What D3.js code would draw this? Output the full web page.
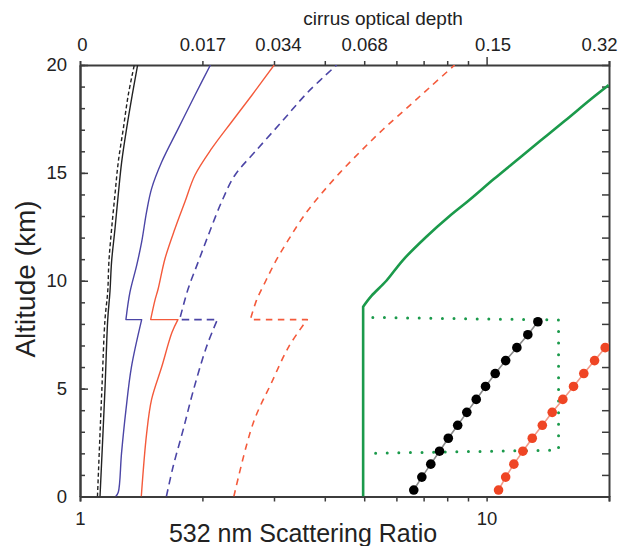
<!DOCTYPE html>
<html><head><meta charset="utf-8">
<script src="https://cdn.jsdelivr.net/npm/d3@7"></script>
<style>
body{margin:0;background:#fff}
svg{display:block}
text{font-family:Arial,"Liberation Sans",sans-serif;fill:#222}
</style>
</head><body>
<svg id="c" width="628" height="546"></svg>
<script>
// ---------- data (altitude km, 532 nm scattering ratio) ----------
const altBlackSolid   = [0, 5, 8.2, 9.5, 10.9, 12.4, 14.0, 15.5, 17.05, 18.6, 20];
const ratioBlackSolid = [1.120, 1.152, 1.170, 1.185, 1.196, 1.219, 1.242, 1.266, 1.302, 1.344, 1.386];
const altBlackDashed   = [0, 5, 8.2, 9.5, 10.9, 12.4, 14.0, 15.5, 17.05, 18.6, 20];
const ratioBlackDashed = [1.104, 1.132, 1.152, 1.170, 1.178, 1.196, 1.219, 1.242, 1.278, 1.314, 1.360];

const altBlueSolid   = [0, 0.2, 2, 4, 6, 8.2, 8.2, 9.47, 10.7, 11.8, 13.19, 14.27, 15.5, 17.05, 18.6, 20];
const ratioBlueSolid = [1.224, 1.242, 1.265, 1.297, 1.338, 1.418, 1.297, 1.327, 1.378, 1.418, 1.458, 1.500, 1.588, 1.744, 1.917, 2.093];

const altRedSolid   = [0, 2.9, 4.5, 6, 7.6, 8.2, 8.2, 9.1, 9.63, 11.02, 12.41, 13.65, 14.89, 16.12, 17.36, 18.6, 20];
const ratioRedSolid = [1.415, 1.458, 1.500, 1.588, 1.683, 1.741, 1.492, 1.529, 1.557, 1.618, 1.712, 1.811, 1.917, 2.107, 2.359, 2.647, 3.003];

const altBlueDashed   = [0, 1.4, 3.1, 4.9, 6.95, 8.2, 8.2, 9.63, 10.87, 12.1, 13.65, 14.89, 15.97, 17.36, 18.75, 20];
const ratioBlueDashed = [1.631, 1.695, 1.794, 1.899, 2.048, 2.177, 1.758, 1.845, 1.953, 2.067, 2.229, 2.404, 2.692, 3.131, 3.638, 4.28];

const altRedDashed   = [0, 3.4, 5.25, 6.95, 8.2, 8.2, 9.1, 10, 11, 12, 13, 14, 15, 16, 17, 18, 19, 20];
const ratioRedDashed = [2.390, 2.666, 2.954, 3.263, 3.622, 2.624, 2.718, 2.864, 3.048, 3.281, 3.550, 3.910, 4.353, 4.901, 5.553, 6.362, 7.285, 8.344];

const altGreen   = [0, 8.8, 9.3, 10.0, 10.96, 12.04, 13.0, 13.75, 14.7, 15.6, 16.5, 17.4, 18.4, 19.07];
const ratioGreen = [4.97, 4.97, 5.21, 5.669, 6.229, 7.110, 8.111, 9.084, 10.40, 11.88, 13.58, 15.55, 18.01, 19.97];

const altGreenDotted   = [8.3, 8.18, 2.15, 2.0];
const ratioGreenDotted = [5.25, 15.03, 15.03, 5.01];

const altBlackDots   = [0.3, 0.9, 1.5, 2.1, 2.7, 3.3, 3.9, 4.5, 5.1, 5.7, 6.3, 6.9, 7.5, 8.1];
const ratioBlackDots = [6.62, 6.93, 7.29, 7.66, 8.05, 8.49, 8.94, 9.43, 9.94, 10.50, 11.14, 11.87, 12.63, 13.37];

const altRedDots   = [0.3, 0.9, 1.5, 2.1, 2.7, 3.3, 3.9, 4.5, 5.1, 5.7, 6.3, 6.9, 7.5];
const ratioRedDots = [10.70, 11.14, 11.67, 12.28, 12.95, 13.71, 14.50, 15.40, 16.36, 17.34, 18.43, 19.57, 20.8];

// ticks / labels
const bottomTickValues = [1, 2, 3, 4, 5, 6, 7, 8, 9, 10, 20];
const bottomLabelValues = [1, 10];
const topTickValues = [2, 3, 4, 5, 6, 7, 8, 9, 10, 20];
const topLabelPositions = [1, 2, 3, 5, 10, 20];
const topLabels = ["0", "0.017", "0.034", "0.068", "0.15", "0.32"];
const yMajorTicks = [0, 5, 10, 15, 20];
const yMinorTicks = d3.range(0, 21, 1);

// ---------- layout ----------
const L = 80, R = 609, T = 65, B = 496.5;
const svg = d3.select("#c");
const x = d3.scaleLog().domain([1, 20]).range([L, R]);
const y = d3.scaleLinear().domain([0, 20]).range([B, T]);

svg.append("defs").append("clipPath").attr("id", "clip")
  .append("rect").attr("x", L).attr("y", T).attr("width", R - L).attr("height", B - T);

const axisColor = "#3c3c3c";

const gB = svg.append("g").attr("transform", `translate(0,${B})`)
  .call(d3.axisBottom(x).tickValues(bottomTickValues).tickSize(5).tickPadding(10)
    .tickFormat(d => bottomLabelValues.includes(d) ? String(d) : ""));
const gT = svg.append("g").attr("transform", `translate(0,${T})`)
  .call(d3.axisTop(x).tickValues(topTickValues).tickSize(4).tickFormat(""));
gT.selectAll(".tick line").filter(d => d === 10).attr("y2", -8);
const gTL = svg.append("g").attr("transform", `translate(0,${T})`)
  .call(d3.axisTop(x).tickValues(topLabelPositions).tickSize(0).tickPadding(14)
    .tickFormat((d, i) => topLabels[i]));
gTL.select(".domain").remove();
gTL.selectAll(".tick text").filter(d => d === 20).attr("text-anchor", "end").attr("dx", 8);
gTL.selectAll(".tick text").filter(d => d === 10).attr("dx", 6);
gTL.selectAll(".tick text").filter(d => d === 3).attr("dx", 4);
gTL.selectAll(".tick text").filter(d => d === 1).attr("dx", 2);

const gLm = svg.append("g").attr("transform", `translate(${L},0)`)
  .call(d3.axisLeft(y).tickValues(yMinorTicks).tickSizeInner(-5).tickSizeOuter(0).tickFormat(""));
const gL = svg.append("g").attr("transform", `translate(${L},0)`)
  .call(d3.axisLeft(y).tickValues(yMajorTicks).tickSizeInner(-8).tickSizeOuter(0).tickPadding(13));
const gR = svg.append("g").attr("transform", `translate(${R},0)`)
  .call(d3.axisRight(y).tickValues(yMinorTicks).tickSizeInner(-7).tickSizeOuter(0).tickFormat(""));

[gB, gT, gLm, gL, gR].forEach(g => {
  g.selectAll("path.domain").attr("stroke", axisColor).attr("stroke-width", 2);
  g.selectAll(".tick line").attr("stroke", axisColor).attr("stroke-width", 1.5);
});
svg.selectAll(".tick text").style("font-family", "Arial, 'Liberation Sans', sans-serif")
  .style("font-size", "18.5px").attr("fill", "#222");

// ---------- series ----------
const plot = svg.append("g").attr("clip-path", "url(#clip)");
const zip = (a, r) => a.map((v, i) => [v, r[i]]);
const smooth = d3.line().x(d => x(d[1])).y(d => y(d[0])).curve(d3.curveCatmullRom.alpha(0.5));
const straight = d3.line().x(d => x(d[1])).y(d => y(d[0]));

// split a profile where altitude repeats (cloud-top step) or at given indices,
// smooth each piece and join the pieces with straight segments
function profilePath(alt, ratio, extraBreaks) {
  const pts = zip(alt, ratio);
  const pieces = [];
  let cur = [pts[0]];
  for (let i = 1; i < pts.length; i++) {
    if (pts[i][0] === pts[i - 1][0]) { pieces.push(cur); cur = [pts[i]]; }
    else if (extraBreaks && extraBreaks.includes(i)) { cur.push(pts[i]); pieces.push(cur); cur = [pts[i]]; }
    else cur.push(pts[i]);
  }
  pieces.push(cur);
  let d = "";
  pieces.forEach((p, k) => {
    const s = p.length > 2 ? smooth(p) : straight(p);
    d += k === 0 ? s : "L" + s.slice(1);
  });
  return d;
}

function draw(d, color, width, dash, cap) {
  plot.append("path").attr("d", d).attr("fill", "none")
    .attr("stroke", color).attr("stroke-width", width)
    .attr("stroke-dasharray", dash || null)
    .attr("stroke-linecap", cap || "butt")
    .attr("stroke-linejoin", "round");
}

const blue = "#4b45a6", red = "#f45a3b", green = "#1b9a4b";
draw(profilePath(altBlackSolid, ratioBlackSolid), "#222", 1.4);
draw(profilePath(altBlackDashed, ratioBlackDashed), "#222", 1.4, "4,2.6");
draw(profilePath(altBlueSolid, ratioBlueSolid), blue, 1.4);
draw(profilePath(altRedSolid, ratioRedSolid), red, 1.4);
draw(profilePath(altBlueDashed, ratioBlueDashed), blue, 1.6, "7.5,5");
draw(profilePath(altRedDashed, ratioRedDashed), red, 1.6, "6.5,5.5");
draw(profilePath(altGreen, ratioGreen, [1]), green, 2.6);
draw(straight(zip(altGreenDotted, ratioGreenDotted)), green, 3, "0,11.6", "round");

draw(straight(zip(altBlackDots, ratioBlackDots)), "#8a8a8a", 1.6);
draw(straight(zip(altRedDots, ratioRedDots)), "#f39a88", 1.6);
plot.selectAll("circle.bk").data(zip(altBlackDots, ratioBlackDots)).enter()
  .append("circle").attr("class", "bk")
  .attr("cx", d => x(d[1])).attr("cy", d => y(d[0])).attr("r", 4.8).attr("fill", "#000");
plot.selectAll("circle.rd").data(zip(altRedDots, ratioRedDots)).enter()
  .append("circle").attr("class", "rd")
  .attr("cx", d => x(d[1])).attr("cy", d => y(d[0])).attr("r", 4.8).attr("fill", "#ef4524");

// ---------- titles ----------
svg.append("text").attr("x", 383).attr("y", 25).attr("text-anchor", "middle")
  .style("font-size", "19px").text("cirrus optical depth");
svg.append("text").attr("x", 303).attr("y", 542).attr("text-anchor", "middle")
  .style("font-size", "25px").text("532 nm Scattering Ratio");
svg.append("text").attr("transform", "translate(35,279) rotate(-90)").attr("text-anchor", "middle")
  .style("font-size", "28px").text("Altitude (km)");
</script>
</body></html>
